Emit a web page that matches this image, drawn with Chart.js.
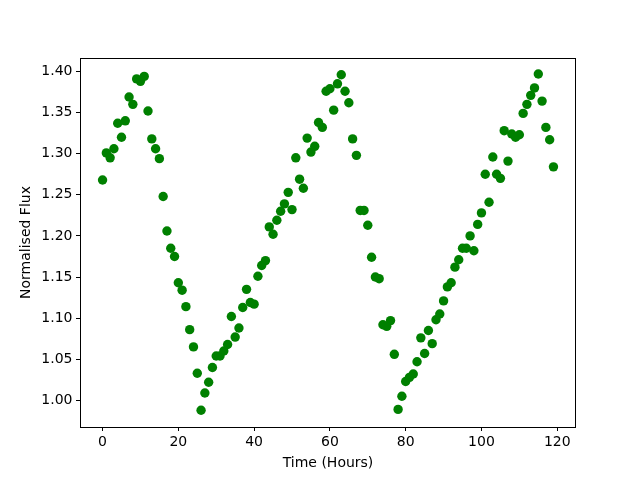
<!DOCTYPE html>
<html>
<head>
<meta charset="utf-8">
<script src="https://cdn.jsdelivr.net/npm/chart.js@4"></script>
<style>
  html, body { margin: 0; padding: 0; background: #fff; }
  #wrap { width: 640px; height: 480px; }
</style>
</head>
<body>
<div id="wrap"><canvas id="fluxChart" width="640" height="480"></canvas></div>
<script>
// time of each measurement (hours)
const hours = [
  0, 1, 2, 3, 4, 5, 6, 7, 8, 9, 10, 11, 12, 13, 14, 15, 16, 17, 18, 19,
  20, 21, 22, 23, 24, 25, 26, 27, 28, 29, 30, 31, 32, 33, 34, 35, 36, 37, 38, 39,
  40, 41, 42, 43, 44, 45, 46, 47, 48, 49, 50, 51, 52, 53, 54, 55, 56, 57, 58, 59,
  60, 61, 62, 63, 64, 65, 66, 67, 68, 69, 70, 71, 72, 73, 74, 75, 76, 77, 78, 79,
  80, 81, 82, 83, 84, 85, 86, 87, 88, 89, 90, 91, 92, 93, 94, 95, 96, 97, 98, 99,
  100, 101, 102, 103, 104, 105, 106, 107, 108, 109, 110, 111, 112, 113, 114, 115, 116, 117, 118, 119
];

// normalised flux
const flux = [
  1.268, 1.301, 1.295, 1.306, 1.337, 1.320, 1.340, 1.369, 1.360, 1.391,
  1.388, 1.394, 1.352, 1.318, 1.306, 1.294, 1.248, 1.206, 1.185, 1.175,
  1.143, 1.134, 1.114, 1.086, 1.065, 1.033, 0.988, 1.009, 1.022, 1.040,
  1.054, 1.054, 1.060, 1.068, 1.102, 1.077, 1.088, 1.113, 1.135, 1.119,
  1.117, 1.151, 1.164, 1.170, 1.211, 1.202, 1.219, 1.230, 1.239, 1.253,
  1.232, 1.295, 1.269, 1.258, 1.319, 1.302, 1.309, 1.338, 1.332, 1.376,
  1.379, 1.353, 1.385, 1.396, 1.376, 1.362, 1.318, 1.298, 1.231, 1.231,
  1.213, 1.174, 1.150, 1.148, 1.092, 1.090, 1.097, 1.056, 0.989, 1.005,
  1.023, 1.028, 1.032, 1.047, 1.076, 1.057, 1.085, 1.069, 1.098, 1.105,
  1.121, 1.138, 1.143, 1.162, 1.171, 1.185, 1.185, 1.200, 1.182, 1.214,
  1.228, 1.275, 1.241, 1.296, 1.275, 1.270, 1.328, 1.291, 1.324, 1.320,
  1.323, 1.349, 1.360, 1.371, 1.380, 1.397, 1.364, 1.332, 1.317, 1.284
];

const xTicks = [0, 20, 40, 60, 80, 100, 120];
const yTicks = [1.00, 1.05, 1.10, 1.15, 1.20, 1.25, 1.30, 1.35, 1.40];

const FONT = { family: "'DejaVu Sans', sans-serif", size: 14 };

// matplotlib style box round the plot area
const frame = {
  id: "frame",
  afterDraw(chart) {
    const { ctx, chartArea: a } = chart;
    ctx.save();
    ctx.strokeStyle = "#000";
    ctx.lineWidth = 1;
    ctx.strokeRect(a.left + 0.5, a.top + 0.5, a.right - a.left - 1, a.bottom - a.top);
    ctx.restore();
  },
};

const points = hours.map((h, i) => ({ x: h, y: flux[i] }));

new Chart(document.getElementById("fluxChart"), {
  type: "scatter",
  data: {
    datasets: [
      {
        data: points,
        backgroundColor: "#008000",
        borderColor: "#008000",
        borderWidth: 0,
        pointRadius: 4.7,
      },
    ],
  },
  options: {
    responsive: false,
    animation: false,
    devicePixelRatio: 1,
    layout: { padding: { top: 58, right: 64, left: 0, bottom: 0 } },
    plugins: { legend: { display: false }, tooltip: { enabled: false } },
    scales: {
      x: {
        type: "linear",
        min: -5.95,
        max: 124.95,
        afterBuildTicks: (axis) => { axis.ticks = xTicks.map((v) => ({ value: v })); },
        afterFit: (axis) => { axis.height = 53; },
        border: { display: false },
        grid: { drawOnChartArea: false, drawTicks: true, tickLength: 4, color: "#000" },
        ticks: { color: "#000", font: FONT, padding: 3, maxRotation: 0 },
        title: { display: true, text: "Time (Hours)", color: "#000", font: FONT, padding: { top: 0, bottom: 8 } },
      },
      y: {
        type: "linear",
        min: 0.9676,
        max: 1.4164,
        afterBuildTicks: (axis) => { axis.ticks = yTicks.map((v) => ({ value: v })); },
        afterFit: (axis) => { axis.width = 80; },
        border: { display: false },
        grid: { drawOnChartArea: false, drawTicks: true, tickLength: 4, color: "#000" },
        ticks: { color: "#000", font: FONT, padding: 3.5, callback: (v) => v.toFixed(2) },
        title: { display: true, text: "Normalised Flux", color: "#000", font: FONT, padding: { top: 17.5, bottom: 0 } },
      },
    },
  },
  plugins: [frame],
});
</script>
</body>
</html>
